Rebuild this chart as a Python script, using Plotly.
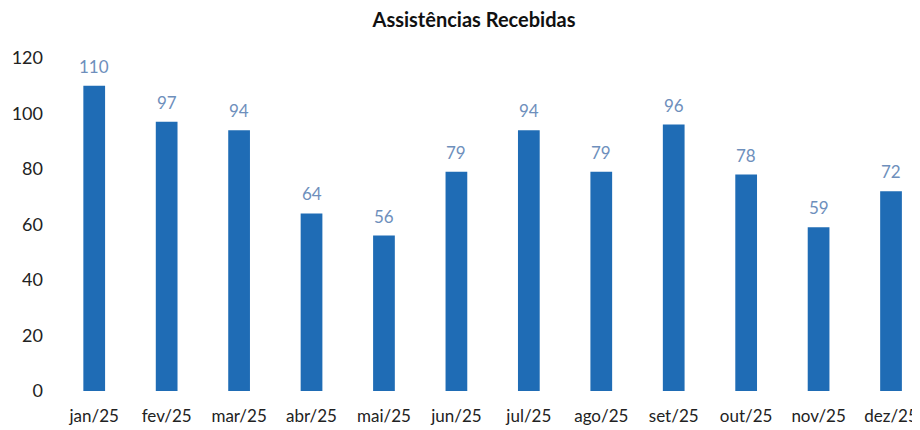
import plotly.graph_objects as go

months = ["jan/25", "fev/25", "mar/25", "abr/25", "mai/25", "jun/25",
          "jul/25", "ago/25", "set/25", "out/25", "nov/25", "dez/25"]
values = [110, 97, 94, 64, 56, 79, 94, 79, 96, 78, 59, 72]
y_ticks = [0, 20, 40, 60, 80, 100, 120]

fig = go.Figure(go.Bar(
    x=months, y=values,
    marker=dict(color="#1F6CB5", line=dict(width=0)),
    cliponaxis=False,
))

for m, v in zip(months, values):
    fig.add_annotation(x=m, y=v, text=str(v), showarrow=False,
                       yanchor="bottom", yshift=7,
                       font=dict(color="#6E8FBC", size=17, family="Lato"))

fig.update_layout(
    width=920, height=430,
    margin=dict(l=50, r=8, t=50, b=47, autoexpand=False),
    paper_bgcolor="white", plot_bgcolor="white",
    title=dict(text="<b>Assistências Recebidas</b>", x=0.5065, xanchor="center",
               y=1 - 12 / 430, yanchor="middle",
               font=dict(family="Lato", size=20, color="#111111")),
    bargap=0.70,
    showlegend=False,
    font=dict(family="Lato", size=15, color="#222222"),
)
fig.update_xaxes(range=[-0.5, 11.4], showgrid=False, showline=False, ticks="",
                 automargin=False,
                 ticklabelstandoff=13, tickfont=dict(size=17, color="#222222"))
fig.update_yaxes(range=[0, 120], tickvals=y_ticks, showgrid=False, zeroline=False,
                 showline=False, ticks="", ticklabelstandoff=14, automargin=False,
                 tickfont=dict(size=18, color="#222222"))

fig.write_html("out.html")
